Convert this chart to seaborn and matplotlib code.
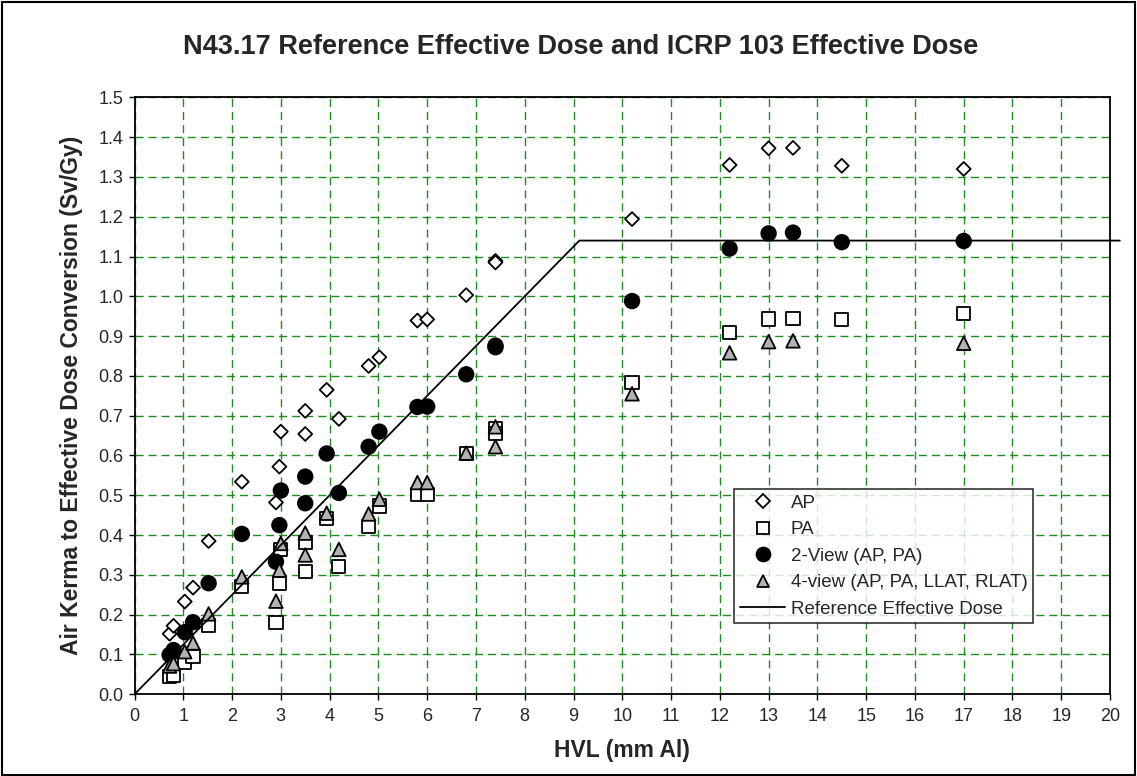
import numpy as np
import pandas as pd
import matplotlib
matplotlib.use("Agg")
import matplotlib.pyplot as plt
from matplotlib.lines import Line2D
from matplotlib.patches import Rectangle
import seaborn as sns

# ---------------- data ----------------
hvl = [0.72, 0.8, 1.03, 1.2, 1.52, 2.2, 2.9, 2.97, 3.0, 3.5, 3.5, 3.94, 4.19,
       4.8, 5.02, 5.8, 6.0, 6.8, 7.4, 7.4, 10.2, 12.2, 13.0, 13.5, 14.5, 17.0]
ap = [0.152, 0.172, 0.233, 0.268, 0.385, 0.534, 0.482, 0.572, 0.660, 0.654,
      0.712, 0.765, 0.692, 0.825, 0.847, 0.939, 0.942, 1.003, 1.089, 1.085,
      1.194, 1.330, 1.372, 1.373, 1.328, 1.320]
pa = [0.044, 0.048, 0.080, 0.094, 0.172, 0.270, 0.180, 0.279, 0.363, 0.308,
      0.381, 0.442, 0.321, 0.421, 0.473, 0.503, 0.503, 0.606, 0.668, 0.655,
      0.783, 0.909, 0.943, 0.945, 0.942, 0.957]
two_view = [0.099, 0.111, 0.156, 0.181, 0.279, 0.403, 0.333, 0.425, 0.512,
            0.480, 0.547, 0.605, 0.506, 0.622, 0.660, 0.722, 0.723, 0.804,
            0.876, 0.872, 0.988, 1.120, 1.158, 1.160, 1.136, 1.139]
four_view = [0.071, 0.077, 0.107, 0.129, 0.202, 0.295, 0.234, 0.312, 0.379,
             0.350, 0.405, 0.455, 0.364, 0.453, 0.490, 0.532, 0.532, 0.606,
             0.672, 0.622, 0.755, 0.858, 0.886, 0.888, np.nan, 0.882]
ref_x = [0.0, 9.12, 20.2]
ref_y = [0.0, 1.14, 1.14]

series_names = ["AP", "PA", "2-View (AP, PA)", "4-view (AP, PA, LLAT, RLAT)"]
series_vals = [ap, pa, two_view, four_view]
x_ticks = list(range(0, 21))
y_ticks = [round(0.1 * i, 1) for i in range(16)]

df = pd.concat(
    [pd.DataFrame({"HVL": hvl, "val": v, "series": n}) for n, v in zip(series_names, series_vals)],
    ignore_index=True,
).dropna()

# ---------------- style ----------------
sns.set_theme(style="white")
plt.rcParams["font.family"] = ["Liberation Sans", "DejaVu Sans"]

fig = plt.figure(figsize=(11.37, 7.76), dpi=100)
ax = fig.add_axes([0.1183, 0.1053, 0.858, 0.7693])

palette = {"AP": "white", "PA": "white", "2-View (AP, PA)": "black",
           "4-view (AP, PA, LLAT, RLAT)": "#b3b3b3"}
markers = {"AP": "D", "PA": "s", "2-View (AP, PA)": "o",
           "4-view (AP, PA, LLAT, RLAT)": "^"}
sizes = {"AP": 50, "PA": 90, "2-View (AP, PA)": 110,
         "4-view (AP, PA, LLAT, RLAT)": 95}

sns.scatterplot(data=df, x="HVL", y="val", hue="series", style="series",
                size="series", palette=palette, markers=markers, sizes=sizes,
                edgecolor="black", linewidth=1.3, legend=False, ax=ax, zorder=3)

ax.plot(ref_x, ref_y, color="black", lw=1.3, zorder=4, clip_on=False)

ax.set_xlim(0, 20)
ax.set_ylim(0, 1.5)
ax.set_xticks(x_ticks)
ax.set_yticks(y_ticks)
ax.set_yticklabels([f"{t:.1f}" for t in y_ticks])
ax.tick_params(axis="both", direction="out", length=4, width=1, color="black",
               labelsize=13, pad=4, left=True, bottom=True)
ax.tick_params(axis="x", pad=6)
ax.grid(True, color="#1f8c1f", linestyle=(0, (5.8, 3.6)), linewidth=1, zorder=0)
ax.set_axisbelow(True)
for s in ax.spines.values():
    s.set_color("black")
    s.set_linewidth(1.3)

ax.set_xlabel("HVL (mm Al)", fontsize=16.5, fontweight="bold", labelpad=10)
ax.set_ylabel("Air Kerma to Effective Dose Conversion (Sv/Gy)", fontsize=16.5,
              fontweight="bold", labelpad=11)

fig.text(0.511, 0.939, "N43.17 Reference Effective Dose and ICRP 103 Effective Dose",
         ha="center", va="center", fontsize=19.5, fontweight="bold")

handles = [
    Line2D([], [], ls="none", marker="D", ms=6.8, mfc="white", mec="black", mew=1.3),
    Line2D([], [], ls="none", marker="s", ms=9, mfc="white", mec="black", mew=1.3),
    Line2D([], [], ls="none", marker="o", ms=10, mfc="black", mec="black", mew=1.3),
    Line2D([], [], ls="none", marker="^", ms=9, mfc="#b3b3b3", mec="black", mew=1.3),
    Line2D([], [], color="black", lw=1.3),
]
labels = series_names + ["Reference Effective Dose"]
leg = ax.legend(handles, labels, loc="lower left", bbox_to_anchor=(0.615, 0.119),
                borderaxespad=0, frameon=True, fancybox=False, fontsize=13.5,
                labelspacing=0.5, handlelength=2.4, handletextpad=0.3,
                borderpad=0.3, edgecolor="black")
leg.get_frame().set_linewidth(1.2)
leg.set_zorder(10)

fig.patches.append(Rectangle((0.002, 0.001), 0.996, 0.996, transform=fig.transFigure,
                             fill=False, edgecolor="black", lw=1.5))

fig.savefig("out.png", dpi=100, facecolor="white")
